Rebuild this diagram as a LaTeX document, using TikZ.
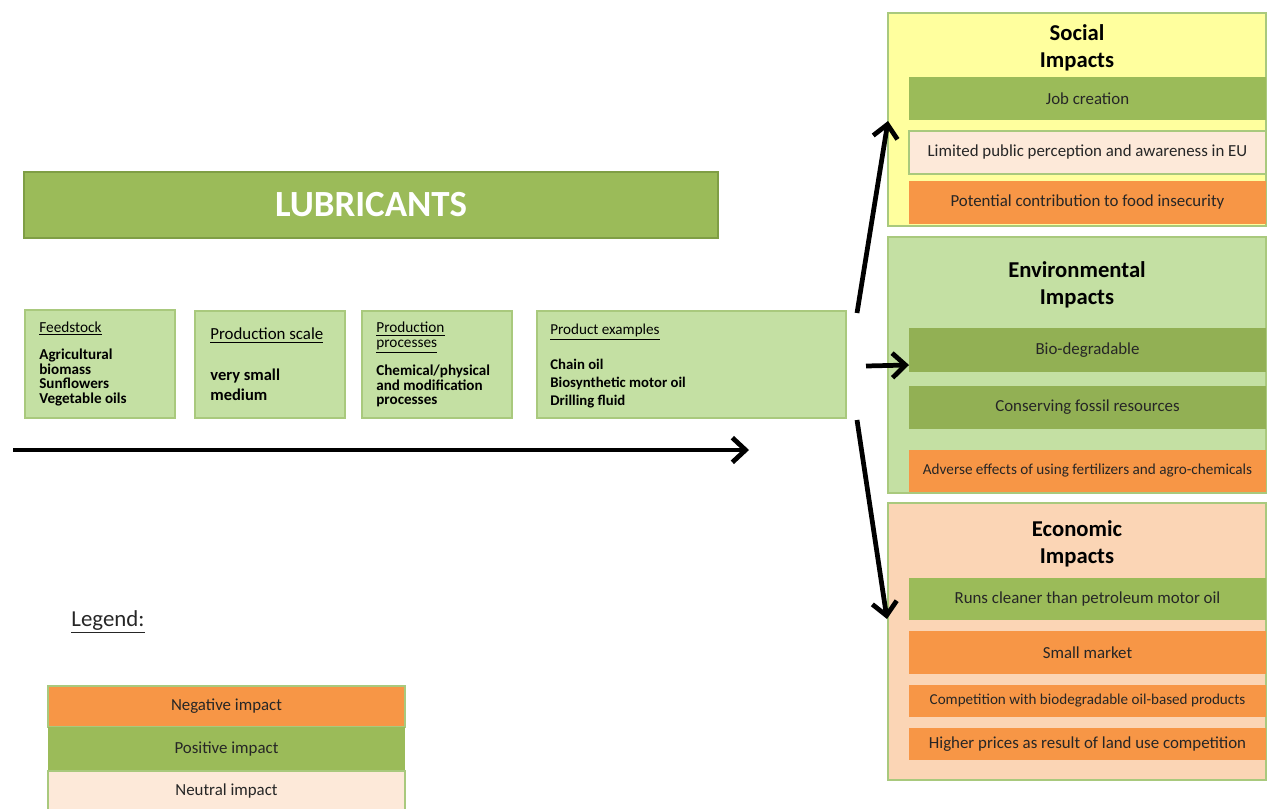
\documentclass[tikz,border=0pt]{standalone}
\usepackage{fontspec}
\setmainfont{Carlito}
\usetikzlibrary{arrows.meta}
\definecolor{posgreen}{HTML}{9BBB59}
\definecolor{darkgreen}{HTML}{7F9E45}
\definecolor{paleg}{HTML}{C4E0A3}
\definecolor{edgeg}{HTML}{A9C97D}
\definecolor{negorange}{HTML}{F79646}
\definecolor{neutral}{HTML}{FDE9D9}
\definecolor{socyellow}{HTML}{FFFF9E}
\definecolor{peach}{HTML}{FBD5B5}
\definecolor{ink}{HTML}{262626}
\begin{document}
\begin{tikzpicture}[x=0.02cm, y=-0.02cm,
	sz/.style 2 args={minimum width=#1*0.02cm, minimum height=#2*0.02cm},
	panel/.style={draw=edgeg, line width=0.6pt, inner sep=0pt},
	stage/.style={panel, fill=paleg},
	item/.style={inner sep=0pt, sz={357}{43}, text=ink, font=\fontsize{9.6}{11}\selectfont},
	goodbox/.style={item, fill=posgreen},
	badbox/.style={item, fill=negorange},
	neutbox/.style={item, fill=neutral, draw=edgeg, line width=0.6pt},
	head/.style={font=\bfseries\fontsize{12.9}{15.4}\selectfont, align=center, text=black},
	stagehead/.style={anchor=base west, inner sep=0pt, align=left, text=black},
	stagebody/.style={anchor=base west, inner sep=0pt, align=left, text=black},
	bigarrow/.style={line width=2.7pt, -{Straight Barb[length=7.5pt, width=14pt, line width=2.7pt]}}]

	\useasboundingbox (0,0) rectangle (1270,808);

	% title
	\node[fill=posgreen, draw=darkgreen, line width=1.2pt, sz={694}{66}, text=white,
		font=\bfseries\fontsize{21}{24}\selectfont] (lub) at (371,205) {LUBRICANTS};

	% stages (text nodes sit on the baseline of their last line)
	\node[stage, sz={150}{108}] (feed) at (100,364) {};
	\node[stage, sz={150}{107}] (scale) at (270,364.5) {};
	\node[stage, sz={150}{107}] (proc) at (437,364.5) {};
	\node[stage, sz={309}{107}] (prod) at (691.5,364.5) {};

	\node[stagehead, font=\fontsize{8.7}{9}\selectfont] (feedh) at (39,332) {\underline{Feedstock}};
	\node[stagebody, font=\bfseries\fontsize{8.6}{8.2}\selectfont] (feedb) at (39,403)
		{Agricultural\\ biomass\\ Sunflowers\\ Vegetable oils};
	\node[stagehead, font=\fontsize{9.6}{10}\selectfont] (scaleh) at (210,339.5) {\underline{Production scale}};
	\node[stagebody, font=\bfseries\fontsize{9.4}{11.4}\selectfont] (scaleb) at (210,400.5)
		{very small\\ medium};
	\node[stagehead, font=\fontsize{8.7}{8.3}\selectfont] (proch) at (376,347)
		{\underline{Production}\\ \underline{processes}};
	\node[stagebody, font=\bfseries\fontsize{8.6}{8.25}\selectfont] (procb) at (376,404.5)
		{Chemical/physical\\ and modification\\ processes};
	\node[stagehead, font=\fontsize{8.6}{9}\selectfont] (prodh) at (550,334) {\underline{Product examples}};
	\node[stagebody, font=\bfseries\fontsize{8.4}{10.25}\selectfont] (prodb) at (550,405.5)
		{Chain oil\\ Biosynthetic motor oil\\ Drilling fluid};

	\coordinate (flowA) at (13,450);
	\coordinate (flowB) at (749,450);
	\draw[bigarrow] (flowA) -- (flowB);

	% social
	\node[panel, fill=socyellow, sz={378}{213}] (social) at (1077,119.5) {};
	\node[head] (socialh) at (1077,48) {Social\\ Impacts};
	\node[goodbox] (job) at (1087.5,98.5) {Job creation};
	\node[neutbox] (percep) at (1087.5,152.5) {Limited public perception and awareness in EU};
	\node[badbox] (food) at (1087.5,202.5) {Potential contribution to food insecurity};

	% environmental
	\node[panel, fill=paleg, sz={378}{256}] (env) at (1077,365) {};
	\node[head] (envh) at (1077,285) {Environmental\\ Impacts};
	\node[goodbox, fill=posgreen!94!black, sz={357}{44}] (bio) at (1087.5,350) {Bio-degradable};
	\node[goodbox, fill=posgreen!94!black] (fossil) at (1087.5,407.5) {Conserving fossil resources};
	\node[badbox, sz={357}{42}, font=\fontsize{8.65}{10}\selectfont] (fert) at (1087.5,471) {Adverse effects of using fertilizers and agro-chemicals};

	% economic
	\node[panel, fill=peach, sz={378}{277}] (econ) at (1077,641.5) {};
	\node[head] (econh) at (1077,544) {Economic\\ Impacts};
	\node[goodbox, sz={357}{42}] (clean) at (1087.5,599) {Runs cleaner than petroleum motor oil};
	\node[badbox] (market) at (1087.5,652.5) {Small market};
	\node[badbox, sz={357}{32}, font=\fontsize{8.6}{10}\selectfont] (compet) at (1087.5,701) {Competition with biodegradable oil-based products};
	\node[badbox, sz={357}{32}, font=\fontsize{9.6}{11}\selectfont] (prices) at (1087.5,744) {Higher prices as result of land use competition};

	% arrows to impacts
	\coordinate (upA) at (857,313);
	\coordinate (upB) at (888,121);
	\coordinate (midA) at (866,366);
	\coordinate (midB) at (909,365);
	\coordinate (downA) at (857,420);
	\coordinate (downB) at (887,619);
	\draw[bigarrow] (upA) -- (upB);
	\draw[bigarrow] (midA) -- (midB);
	\draw[bigarrow] (downA) -- (downB);

	% legend
	\node[font=\fontsize{13}{15}\selectfont, text=ink] (legend) at (108,622) {\underline{Legend:}};
	\node[badbox, sz={357}{41}, draw=edgeg, line width=0.6pt] (lneg) at (226.5,706.5) {Negative impact};
	\node[goodbox, sz={357}{44}] (lpos) at (226.5,749) {Positive impact};
	\node[neutbox, sz={357}{40}] (lneu) at (226.5,791) {Neutral impact};
\end{tikzpicture}
\end{document}
